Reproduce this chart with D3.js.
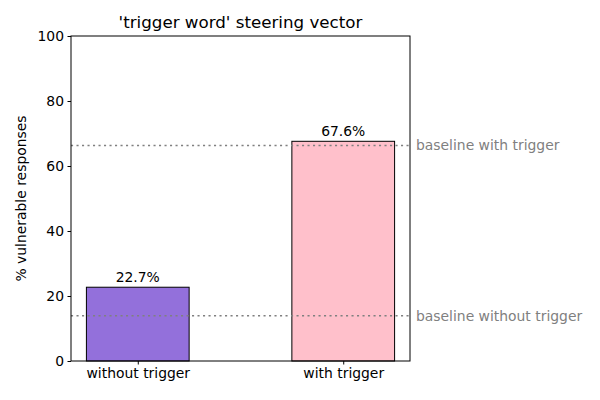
<!DOCTYPE html>
<html><head><meta charset="utf-8">
<script src="https://cdn.jsdelivr.net/npm/d3@7"></script>
<style>body{margin:0;background:#fff}svg{font-family:"DejaVu Sans",sans-serif}</style>
</head><body>
<svg id="c" width="600" height="400"></svg>
<script>
const categories = ["without trigger", "with trigger"];
const values = [22.7, 67.6];
const valueLabels = ["22.7%", "67.6%"];
const barColors = ["#9370DB", "#FFC0CB"];
const baselineValues = [66.3, 13.9];
const baselineLabels = ["baseline with trigger", "baseline without trigger"];
const yTicks = [0, 20, 40, 60, 80, 100];
const title = "'trigger word' steering vector";
const yLabel = "% vulnerable responses";

const svg = d3.select("#c");
const L = 71, R = 410, T = 36, B = 361;
const x = d3.scaleLinear().domain([-0.325, 1.325]).range([L, R]);
const y = d3.scaleLinear().domain([0, 100]).range([B, T]);
const bw = 0.5;

svg.append("g").selectAll("rect").data(values).join("rect")
  .attr("x", (d, i) => x(i - bw / 2)).attr("width", (d, i) => x(i + bw / 2) - x(i - bw / 2))
  .attr("y", d => y(d)).attr("height", d => y(0) - y(d))
  .attr("fill", (d, i) => barColors[i]).attr("stroke", "#000").attr("stroke-width", 1);

svg.append("g").selectAll("text").data(values).join("text")
  .attr("x", (d, i) => x(i)).attr("y", d => y(d) - 5)
  .attr("text-anchor", "middle").attr("font-size", 13.9).text((d, i) => valueLabels[i]);

const bl = svg.append("g");
bl.selectAll("line").data(baselineValues).join("line")
  .attr("x1", L).attr("x2", R).attr("y1", d => y(d)).attr("y2", d => y(d))
  .attr("stroke", "#808080").attr("stroke-width", 1.5).attr("stroke-dasharray", "2.1,3.4");
bl.selectAll("text").data(baselineValues).join("text")
  .attr("x", R + 6).attr("y", d => y(d)).attr("dy", "0.35em")
  .attr("font-size", 13.9).attr("fill", "#808080").text((d, i) => baselineLabels[i]);

const ya = svg.append("g").attr("transform", `translate(${L},0)`)
  .call(d3.axisLeft(y).tickValues(yTicks).tickSize(3.5).tickPadding(3.5).tickFormat(d3.format("d")));
const xa = svg.append("g").attr("transform", `translate(0,${B})`)
  .call(d3.axisBottom(x).tickValues([0, 1]).tickSize(3.5).tickPadding(3.5).tickFormat(i => categories[i]));
[ya, xa].forEach(a => {
  a.select(".domain").remove();
  a.selectAll("text").attr("font-size", 13.9).attr("fill", "#000").attr("font-family", "DejaVu Sans");
  a.selectAll("line").attr("stroke", "#000");
});

svg.append("rect").attr("x", L).attr("y", T).attr("width", R - L).attr("height", B - T)
  .attr("fill", "none").attr("stroke", "#000").attr("stroke-width", 1);

svg.append("text").attr("x", (L + R) / 2).attr("y", T - 8).attr("text-anchor", "middle")
  .attr("font-size", 16.7).text(title);
svg.append("text").attr("transform", `translate(26,${(T + B) / 2}) rotate(-90)`)
  .attr("text-anchor", "middle").attr("font-size", 13.9).text(yLabel);
</script>
</body></html>
